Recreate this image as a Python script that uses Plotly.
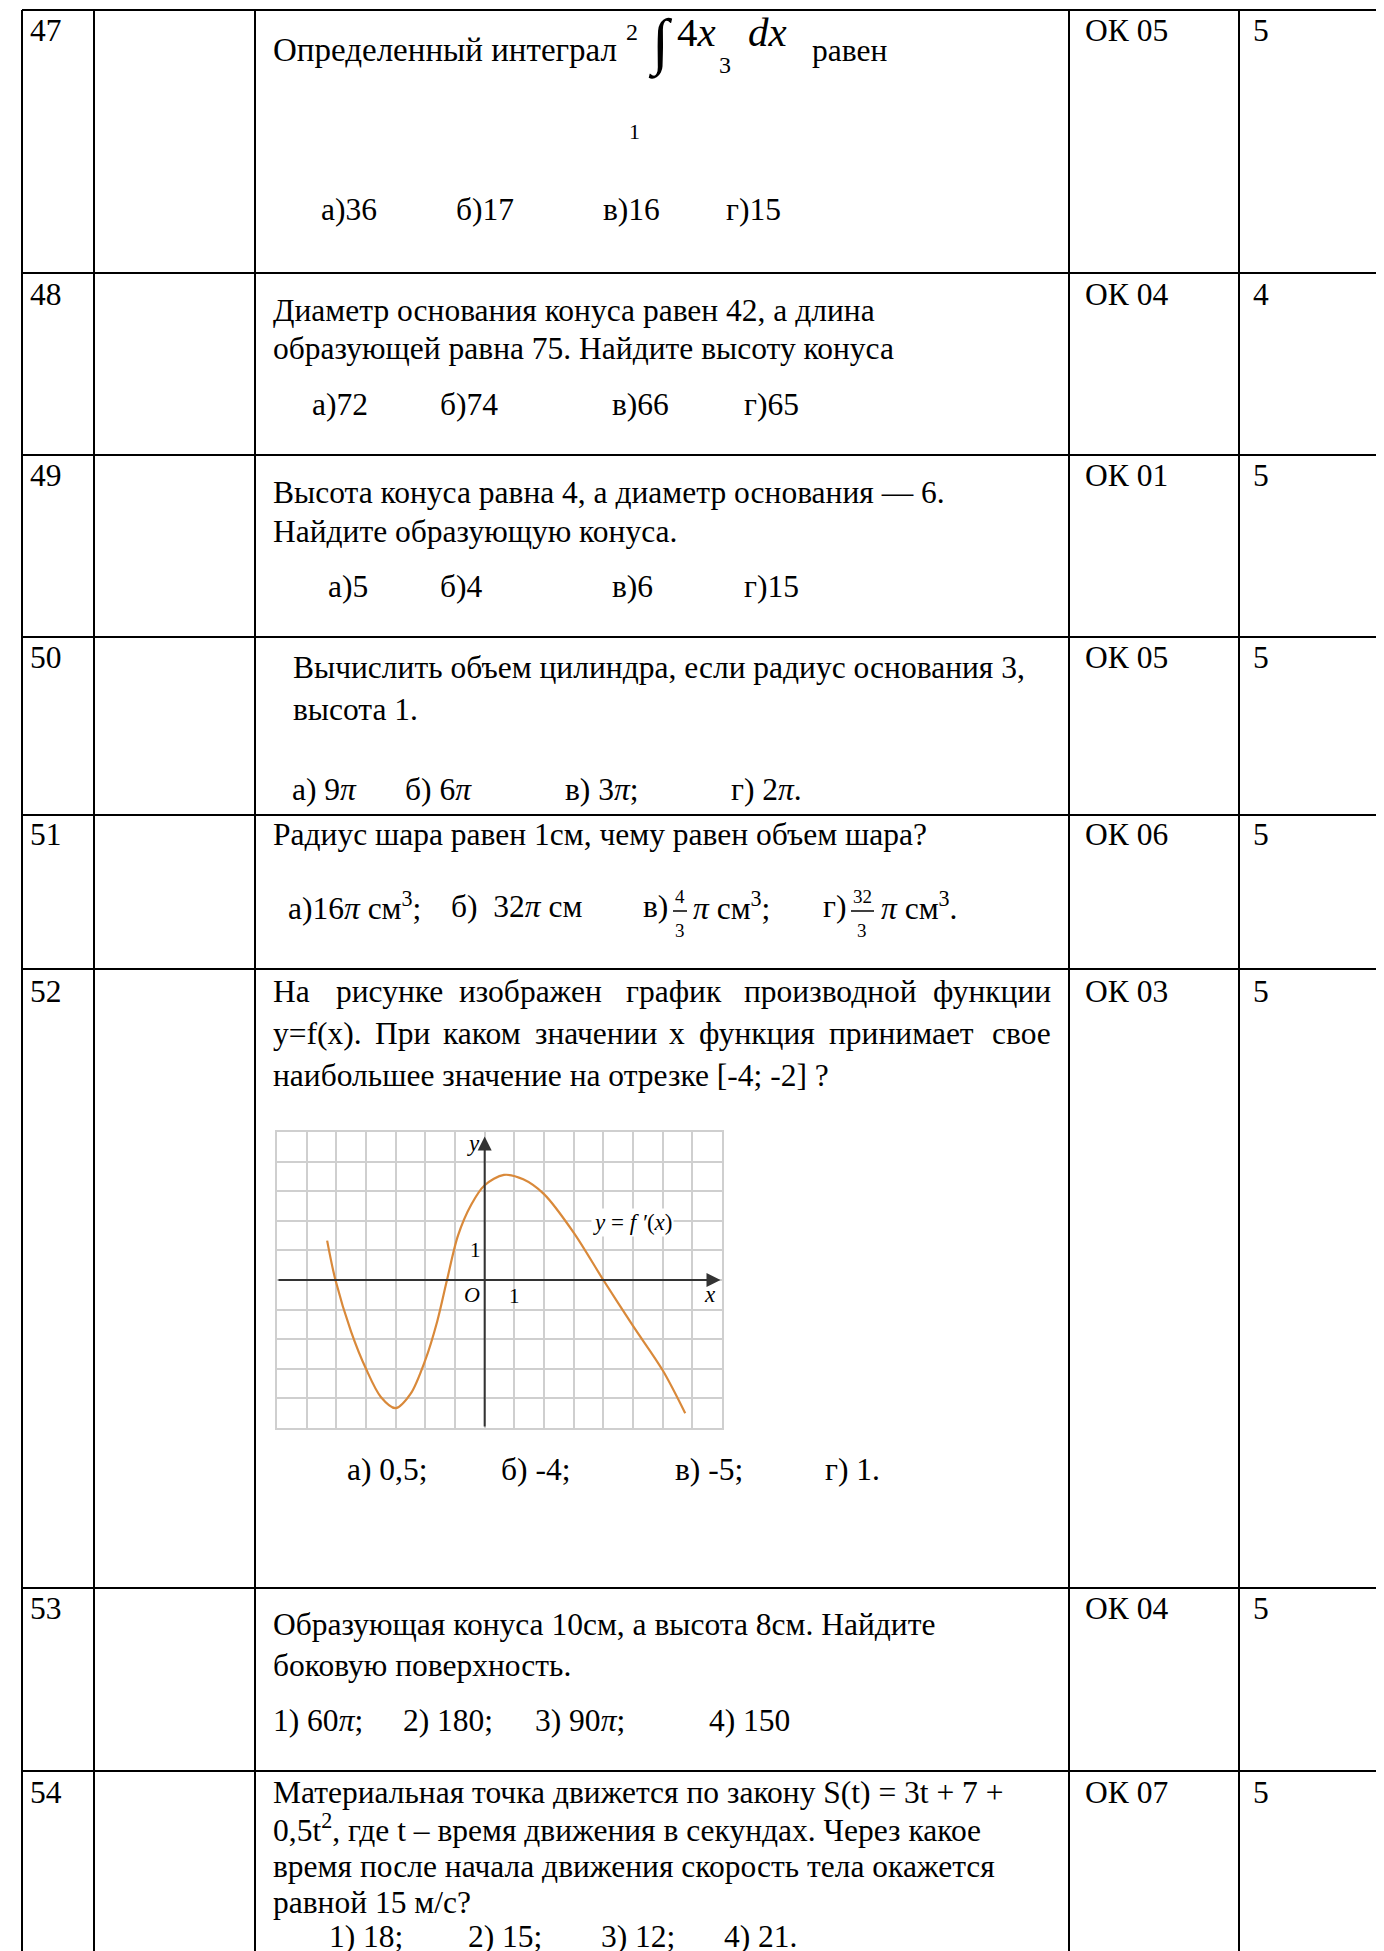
import plotly.graph_objects as go

# table contents
item_numbers = ["47", "48", "49", "50", "51", "52", "53", "54"]
competence_codes = ["ОК 05", "ОК 04", "ОК 01", "ОК 05", "ОК 06", "ОК 03", "ОК 04", "ОК 07"]
scores = ["5", "4", "5", "5", "5", "5", "5", "5"]

# derivative graph y = f'(x)
curve_x = [-5.31, -5.03, -4.5, -4.0, -3.5, -3.0, -2.5, -2.0, -1.6, -1.27,
           -0.9, -0.45, 0.0, 0.65, 1.3, 2.0, 3.0, 4.0, 5.0, 6.0, 6.76]
curve_y = [1.33, 0.0, -1.75, -3.0, -3.95, -4.33, -3.85, -2.7, -1.4, 0.0,
           1.5, 2.55, 3.2, 3.55, 3.4, 2.9, 1.6, 0.0, -1.55, -3.05, -4.5]

W, H = 1384, 1951
OFF = 8  # page body margin of the browser
FONT = "Times New Roman, Liberation Serif, serif"
FS = 31.5

row_top = [10, 273, 455, 637, 815, 969, 1588, 1771]
col_x = [22, 94, 255, 1069, 1239]

fig = go.Figure()
fig.add_trace(go.Scatter(x=[0], y=[0], mode="markers", marker=dict(opacity=0),
                         hoverinfo="skip", showlegend=False, xaxis="x", yaxis="y"))

# graph inside row 52
fig.add_trace(go.Scatter(x=curve_x, y=curve_y, mode="lines", xaxis="x2", yaxis="y2",
                         line=dict(color="#d9893a", width=2.2, shape="spline", smoothing=0.9),
                         showlegend=False, hoverinfo="skip"))

shapes = []
for y in row_top:
    shapes.append(dict(type="line", xref="x", yref="y", x0=col_x[0], x1=W + OFF, y0=y, y1=y,
                       line=dict(color="black", width=2)))
for x in col_x:
    shapes.append(dict(type="line", xref="x", yref="y", x0=x, x1=x, y0=row_top[0], y1=H + OFF,
                       line=dict(color="black", width=2)))

ann = []


def txt(x, y, s, size=FS, italic=False, ref=("x", "y"), xa="left", bg=None):
    d = dict(x=x, y=y, xref=ref[0], yref=ref[1], text=s, showarrow=False,
             xanchor=xa, yanchor="middle",
             font=dict(family=FONT, size=size, color="black",
                       style="italic" if italic else "normal"))
    if bg:
        d["bgcolor"] = bg
    ann.append(d)


# first columns: number, code, score
num_y = [30, 294, 475, 657, 834, 991, 1608, 1792]
for i in range(len(item_numbers)):
    txt(28, num_y[i], item_numbers[i])
    txt(1083, num_y[i], competence_codes[i])
    txt(1251, num_y[i], scores[i])

# 47
txt(271, 50, "Определенный интеграл", size=33)
txt(632, 32, "2", size=24, xa="center")
txt(660, 43, "∫", size=62, xa="center")
txt(675, 32, "4<i>x</i>", size=41)
txt(725, 65, "3", size=24, xa="center")
txt(746, 32, "<i>dx</i>", size=41)
txt(810, 50, "равен")
txt(634, 131, "1", size=22, xa="center")
for x, s in zip([319, 454, 601, 724], ["а)36", "б)17", "в)16", "г)15"]):
    txt(x, 209, s)

# 48
txt(271, 310, "Диаметр основания конуса равен 42, а длина")
txt(271, 348, "образующей равна 75. Найдите высоту конуса")
for x, s in zip([310, 438, 610, 742], ["а)72", "б)74", "в)66", "г)65"]):
    txt(x, 404, s)

# 49
txt(271, 492, "Высота конуса равна 4, а диаметр основания — 6.")
txt(271, 531, "Найдите образующую конуса.")
for x, s in zip([326, 438, 610, 742], ["а)5", "б)4", "в)6", "г)15"]):
    txt(x, 586, s)

# 50
txt(291, 667, "Вычислить объем цилиндра, если радиус основания 3,")
txt(291, 709, "высота 1.")
for x, s in zip([290, 403, 563, 729], ["а) 9<i>π</i>", "б) 6<i>π</i>", "в) 3<i>π</i>;", "г) 2<i>π</i>."]):
    txt(x, 789, s)

# 51
txt(271, 834, "Радиус шара равен 1см, чему равен объем шара?")
txt(286, 906, "а)16<i>π</i> см<sup>3</sup>;")
txt(449, 906, "б)  32<i>π</i> см")
txt(641, 906, "в)")
txt(680, 896, "4", size=19, xa="center")
txt(680, 930, "3", size=19, xa="center")
txt(691, 906, "<i>π</i> см<sup>3</sup>;")
txt(821, 906, "г)")
txt(862, 896, "32", size=19, xa="center")
txt(862, 930, "3", size=19, xa="center")
txt(879, 906, "<i>π</i> см<sup>3</sup>.")
shapes.append(dict(type="line", xref="x", yref="y", x0=673, x1=687, y0=911, y1=911,
                   line=dict(color="black", width=1.5)))
shapes.append(dict(type="line", xref="x", yref="y", x0=851, x1=874, y0=911, y1=911,
                   line=dict(color="black", width=1.5)))

# 52, justified text (last word of a line pinned to the right edge)
line1 = ["На", "рисунке", "изображен", "график", "производной", "функции"]
for x, s in zip([271, 334, 457, 624, 742], line1[:-1]):
    txt(x, 991, s)
txt(1053, 991, line1[-1], xa="right")
line2 = ["y=f(x).", "При", "каком", "значении", "x", "функция", "принимает", "свое"]
for x, s in zip([271, 373, 441, 533, 667, 697, 827], line2[:-1]):
    txt(x, 1033, s)
txt(1053, 1033, line2[-1], xa="right")
txt(271, 1075, "наибольшее значение на отрезке [-4; -2] ?")
for x, s in zip([345, 499, 673, 823], ["а) 0,5;", "б) -4;", "в) -5;", "г) 1."]):
    txt(x, 1469, s)

# 53
txt(271, 1624, "Образующая конуса 10см, а высота 8см. Найдите")
txt(271, 1665, "боковую поверхность.")
for x, s in zip([271, 401, 533, 707], ["1) 60<i>π</i>;", "2) 180;", "3) 90<i>π</i>;", "4) 150"]):
    txt(x, 1720, s)

# 54
txt(271, 1792, "Материальная точка движется по закону S(t) = 3t + 7 +")
txt(271, 1828, "0,5t<sup>2</sup>, где t – время движения в секундах. Через какое")
txt(271, 1866, "время после начала движения скорость тела окажется")
txt(271, 1902, "равной 15 м/с?")
for x, s in zip([327, 466, 599, 722], ["1) 18;", "2) 15;", "3) 12;", "4) 21."]):
    txt(x, 1936, s)

# graph labels and axes arrows
g = ("x2", "y2")
txt(-0.37, 4.62, "y", size=23, italic=True, ref=g, xa="center")
txt(7.6, -0.5, "x", size=23, italic=True, ref=g, xa="center")
txt(-0.42, -0.5, "O", size=22, italic=True, ref=g, xa="center")
txt(1.0, -0.55, "1", size=21, ref=g, xa="center")
txt(-0.32, 1.0, "1", size=21, ref=g, xa="center")
txt(4.97, 1.95, "<i>y</i> = <i>f ′</i>(<i>x</i>)", size=23, ref=g, xa="center", bg="white")
for tip, tail in [((7.95, 0), (-7, 0)), ((0, 4.85), (0, -5))]:
    ann.append(dict(x=tip[0], y=tip[1], ax=tail[0], ay=tail[1], xref="x2", yref="y2",
                    axref="x2", ayref="y2", showarrow=True, arrowhead=2, arrowsize=1.4,
                    arrowwidth=2, arrowcolor="#333", text="", font=dict(size=10)))

gx0, gx1, gy0, gy1 = 277, 722, 1132, 1428
fig.update_layout(
    width=W, height=H, margin=dict(l=0, r=0, t=0, b=0),
    paper_bgcolor="white", plot_bgcolor="white",
    xaxis=dict(range=[OFF, W + OFF], domain=[0, 1], visible=False),
    yaxis=dict(range=[H + OFF, OFF], domain=[0, 1], visible=False),
    xaxis2=dict(range=[-7, 8], domain=[(gx0 - OFF) / W, (gx1 - OFF) / W], anchor="y2", dtick=1,
                showgrid=True, gridcolor="#cfcfcf", gridwidth=1.5, zeroline=False,
                showticklabels=False, showline=True, mirror=True, linecolor="#cfcfcf", linewidth=1.5),
    yaxis2=dict(range=[-5, 5], domain=[1 - (gy1 - OFF) / H, 1 - (gy0 - OFF) / H], anchor="x2", dtick=1,
                showgrid=True, gridcolor="#cfcfcf", gridwidth=1.5, zeroline=False,
                showticklabels=False, showline=True, mirror=True, linecolor="#cfcfcf", linewidth=1.5),
    shapes=shapes, annotations=ann, showlegend=False,
)

fig.write_html("out.html")
